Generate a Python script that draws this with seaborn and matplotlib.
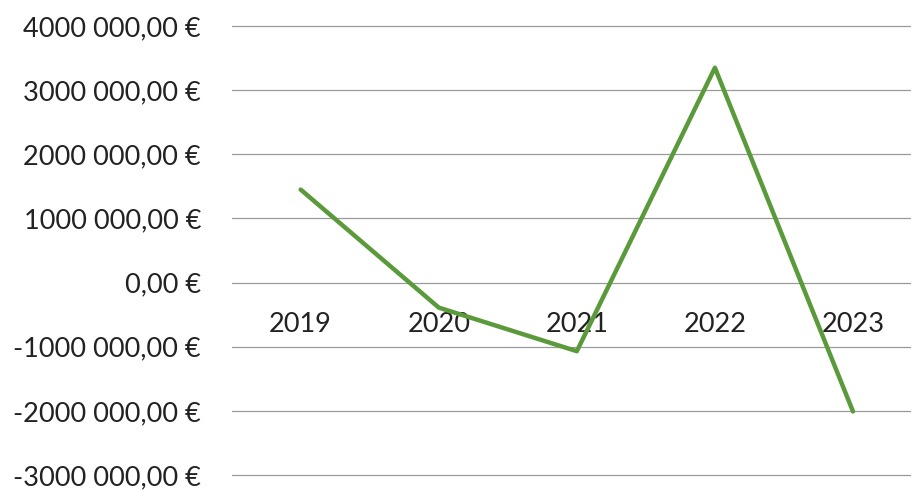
import numpy as np
import pandas as pd
import matplotlib
matplotlib.use("Agg")
import matplotlib.pyplot as plt
import seaborn as sns

annees = ["2019", "2020", "2021", "2022", "2023"]
valeurs = [1450000, -390000, -1070000, 3350000, -2010000]
ticks_y = [-3000000, -2000000, -1000000, 0, 1000000, 2000000, 3000000, 4000000]
labels_y = ["-3000 000,00 €", "-2000 000,00 €", "-1000 000,00 €", "0,00 €",
            "1000 000,00 €", "2000 000,00 €", "3000 000,00 €", "4000 000,00 €"]

sns.set_theme(style="white")
plt.rcParams['font.family'] = ['Lato', 'DejaVu Sans']

df = pd.DataFrame({"annee": annees, "valeur": valeurs})

fig = plt.figure(figsize=(9.12, 4.91), dpi=100)
ax = fig.add_axes([0.254, 0.0326, 0.757, 0.9144])

sns.lineplot(data=df, x="annee", y="valeur", color="#5a9a3a", linewidth=3.2,
             sort=False, ax=ax)

ax.set_ylim(-3000000, 4000000)
ax.set_xlim(-0.5, 4.5)
ax.set_yticks(ticks_y)
ax.set_yticklabels(labels_y, fontsize=19.5, color="#222222")
ax.yaxis.grid(True, color="#9a9a9a", linewidth=0.9)
ax.set_axisbelow(True)
# keep the outer gridlines fully visible at the axes edges
for gl in ax.get_ygridlines():
    gl.set_clip_on(False)

for s in ["top", "right", "left"]:
    ax.spines[s].set_visible(False)
ax.spines["bottom"].set_position(("data", 0))
ax.spines["bottom"].set_visible(False)
ax.tick_params(axis="x", length=0, pad=21, labelsize=19.5, labelcolor="#222222")
ax.tick_params(axis="y", length=0, pad=22)
ax.set_xlabel("")
ax.set_ylabel("")

fig.savefig("out.png", dpi=100)
